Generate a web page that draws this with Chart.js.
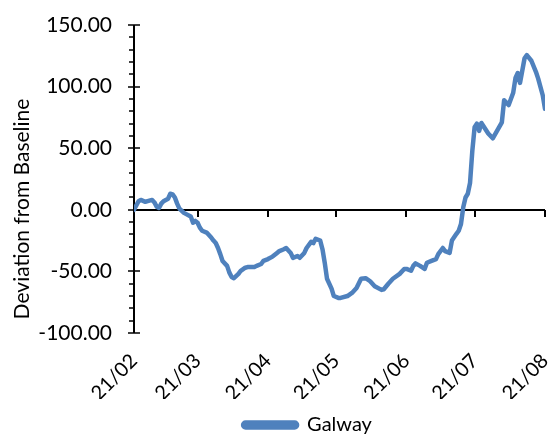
<!DOCTYPE html>
<html>
<head>
<meta charset="utf-8">
<script src="https://cdn.jsdelivr.net/npm/chart.js@4/dist/chart.umd.min.js"></script>
<style>
  html, body { margin: 0; padding: 0; background: #fff; }
  #wrap { width: 551px; height: 435px; }
</style>
</head>
<body>
<div id="wrap"><canvas id="c" width="551" height="435"></canvas></div>
<script>
// Day offsets from 21/02 and the Galway deviation on those days
const days = [0,2,3,5,6,8,9,10,11,12,13,15,16,17,18,19,20,22,23,25,26,27,28,29,30,32,34,35,36,37,38,39,41,42,43,44,46,47,49,50,53,54,56,57,59,61,63,64,66,67,69,70,72,73,75,76,78,79,80,82,83,84,85,87,88,90,91,94,96,98,100,102,104,106,109,110,112,114,117,119,120,122,123,124,126,128,129,131,133,134,136,137,139,140,142,143,144,145,146,147,148,149,150,151,152,153,156,158,160,162,163,165,167,168,169,170,172,173,175,177,178,180,181];
const galway = [0,7,8,6.5,7,8,6,2.5,1.5,5,7,9,13,12.5,10,5,1,-2.5,-3.5,-5.5,-10.5,-9,-10.5,-14.5,-17,-18.5,-22.5,-25,-27,-31,-36,-41.5,-45.5,-51,-54.5,-55.5,-52,-49.5,-47,-46.5,-46.5,-45.5,-44,-41.5,-40,-38,-35,-33.5,-32,-31,-35,-39,-37.5,-39,-35,-31,-26,-27,-23.5,-25,-32,-43,-56,-64,-70,-71.5,-71.5,-70,-67.5,-63.5,-56,-55.5,-58,-62,-65,-64.5,-60,-56,-52,-48,-48,-49.5,-45.5,-43.5,-45.5,-48,-43,-41.5,-40,-36,-31,-33.5,-35,-25,-19.5,-17,-11.5,2,10,13,22,48,67,70,64,70.5,62,58,64.5,71,89,85,95,107,111,103,123,125.5,121,112,106.5,93,82];

// Month ticks on the date axis
const tickDays = [0,28,59,89,120,150,181];
const tickLabels = ['21/02','21/03','21/04','21/05','21/06','21/07','21/08'];

const seriesName = 'Galway';
const yTitle = 'Deviation from Baseline';
const lineColor = '#4f81bd';
const FONT = 'Lato, "Open Sans", sans-serif';

const noScalePadding = s => { s.paddingLeft = 0; s.paddingRight = 0; s.paddingTop = 0; s.paddingBottom = 0; };

// Axis lines, crossing ticks, zero line and rotated y title
const axesPlugin = {
  id: 'axesPlugin',
  afterLayout(chart) {
    const lg = chart.legend;
    if (lg) { lg.left += 35; lg.right += 35; lg.top += 12; lg.bottom += 12; }
  },
  beforeDatasetsDraw(chart) {
    const {ctx, chartArea: a, scales: {x, y}} = chart;
    ctx.save();
    ctx.strokeStyle = '#000';
    ctx.lineWidth = 2;
    ctx.lineCap = 'butt';
    const ax = a.left;
    // vertical axis
    ctx.beginPath();
    ctx.moveTo(ax, y.getPixelForValue(150));
    ctx.lineTo(ax, y.getPixelForValue(-100));
    ctx.stroke();
    // minor ticks every 10, major ticks crossing every 50
    ctx.lineWidth = 1.5;
    for (let v = -100; v <= 150; v += 10) {
      const py = Math.round(y.getPixelForValue(v));
      ctx.beginPath();
      if (v % 50 === 0) {
        ctx.moveTo(ax - 6, py); ctx.lineTo(ax + 6, py);
      } else {
        ctx.moveTo(ax - 5, py); ctx.lineTo(ax, py);
      }
      ctx.stroke();
    }
    // zero line with month ticks
    const zy = Math.round(y.getPixelForValue(0));
    ctx.lineWidth = 2;
    ctx.beginPath();
    ctx.moveTo(ax, zy);
    ctx.lineTo(x.getPixelForValue(181), zy);
    ctx.stroke();
    tickDays.forEach(d => {
      const px = Math.round(x.getPixelForValue(d));
      ctx.beginPath();
      ctx.moveTo(px, zy);
      ctx.lineTo(px, zy + 7);
      ctx.stroke();
    });
    ctx.restore();
    // y axis title
    ctx.save();
    ctx.translate(22, 209);
    ctx.rotate(-Math.PI / 2);
    ctx.fillStyle = '#000';
    ctx.font = '21px ' + FONT;
    ctx.textAlign = 'center';
    ctx.textBaseline = 'middle';
    ctx.fillText(yTitle, 0, 0);
    ctx.restore();
  }
};

new Chart(document.getElementById('c'), {
  type: 'line',
  data: {
    datasets: [{
      label: seriesName,
      data: days.map((d, i) => ({x: d, y: galway[i]})),
      borderColor: lineColor,
      backgroundColor: lineColor,
      borderWidth: 4.5,
      borderCapStyle: 'round',
      borderJoinStyle: 'round',
      pointRadius: 0,
      tension: 0,
      fill: false
    }]
  },
  options: {
    responsive: false,
    animation: false,
    events: [],
    layout: { padding: { left: 0, right: 6, top: 25, bottom: 2 } },
    scales: {
      x: {
        type: 'linear',
        min: 0,
        max: 181,
        grid: { display: false, drawTicks: false },
        border: { display: false },
        afterBuildTicks: s => { s.ticks = tickDays.map(v => ({value: v})); },
        afterFit: s => { s.height = 66; noScalePadding(s); },
        ticks: {
          autoSkip: false,
          maxRotation: 45,
          minRotation: 45,
          padding: 16,
          color: '#000',
          font: { family: FONT, size: 20 },
          callback: (v, i) => tickLabels[i]
        }
      },
      y: {
        min: -100,
        max: 150,
        grid: { display: false, drawTicks: false },
        border: { display: false },
        afterFit: s => { s.width = 134; noScalePadding(s); },
        ticks: {
          stepSize: 50,
          padding: 22,
          color: '#000',
          font: { family: FONT, size: 21 },
          callback: v => v.toFixed(2)
        }
      }
    },
    plugins: {
      legend: {
        position: 'bottom',
        labels: {
          boxWidth: 54,
          boxHeight: 5,
          useBorderRadius: true,
          borderRadius: 2.5,
          padding: 4,
          color: '#000',
          font: { family: FONT, size: 20 }
        }
      },
      tooltip: { enabled: false }
    }
  },
  plugins: [axesPlugin]
});
</script>
</body>
</html>
